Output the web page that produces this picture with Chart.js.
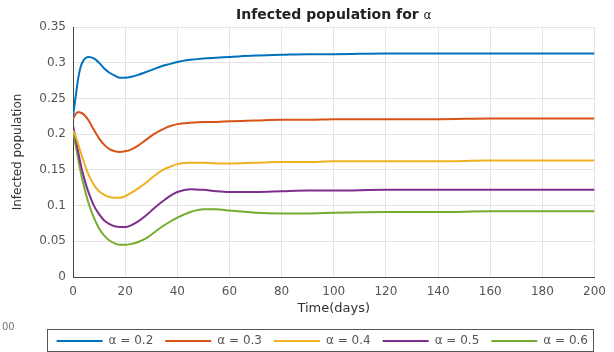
<!DOCTYPE html>
<html>
<head>
<meta charset="utf-8">
<script src="https://cdn.jsdelivr.net/npm/chart.js@4"></script>
<style>
  html, body { margin: 0; padding: 0; background: #fff; }
  #wrap { width: 614px; height: 352px; position: relative; }
</style>
</head>
<body>
<div id="wrap"><canvas id="infectedChart"></canvas></div>
<script>
// time (days)
const days = [0, 1, 2, 3, 4, 5, 6, 8, 10, 12, 14, 16, 18, 20, 22, 25, 28, 31, 34, 37, 40, 45, 50, 55, 60, 70, 80, 90, 100, 120, 140, 160, 180, 200];

const alpha02 = [0.225, 0.252, 0.278, 0.295, 0.303, 0.307, 0.308, 0.306, 0.300, 0.292, 0.286, 0.282, 0.279, 0.279, 0.280, 0.283, 0.287, 0.291, 0.295, 0.298, 0.301, 0.304, 0.306, 0.307, 0.308, 0.310, 0.311, 0.312, 0.312, 0.313, 0.313, 0.313, 0.313, 0.313];
const alpha03 = [0.221, 0.228, 0.231, 0.230, 0.228, 0.224, 0.219, 0.206, 0.194, 0.185, 0.179, 0.176, 0.175, 0.176, 0.178, 0.184, 0.192, 0.200, 0.206, 0.211, 0.214, 0.216, 0.217, 0.217, 0.218, 0.219, 0.220, 0.220, 0.221, 0.221, 0.221, 0.222, 0.222, 0.222];
const alpha04 = [0.205, 0.197, 0.186, 0.174, 0.163, 0.152, 0.143, 0.129, 0.120, 0.115, 0.112, 0.111, 0.111, 0.113, 0.117, 0.124, 0.132, 0.141, 0.149, 0.154, 0.158, 0.160, 0.160, 0.159, 0.159, 0.160, 0.161, 0.161, 0.162, 0.162, 0.162, 0.163, 0.163, 0.163];
const alpha05 = [0.212, 0.194, 0.175, 0.157, 0.142, 0.129, 0.118, 0.100, 0.088, 0.079, 0.074, 0.071, 0.070, 0.070, 0.072, 0.078, 0.086, 0.096, 0.105, 0.113, 0.119, 0.123, 0.122, 0.120, 0.119, 0.119, 0.120, 0.121, 0.121, 0.122, 0.122, 0.122, 0.122, 0.122];
const alpha06 = [0.205, 0.185, 0.165, 0.146, 0.130, 0.116, 0.103, 0.083, 0.068, 0.058, 0.051, 0.047, 0.045, 0.045, 0.046, 0.049, 0.054, 0.062, 0.070, 0.077, 0.083, 0.091, 0.095, 0.095, 0.093, 0.090, 0.089, 0.089, 0.090, 0.091, 0.091, 0.092, 0.092, 0.092];

const seriesNames = ["α = 0.2", "α = 0.3", "α = 0.4", "α = 0.5", "α = 0.6"];
const seriesValues = [alpha02, alpha03, alpha04, alpha05, alpha06];
const seriesColors = ["#0072BD", "#D95319", "#EDB120", "#7E2F8E", "#77AC30"];

const xTicks = [0, 20, 40, 60, 80, 100, 120, 140, 160, 180, 200];
const yTicks = [0, 0.05, 0.1, 0.15, 0.2, 0.25, 0.3, 0.35];

const FONT = "'DejaVu Sans', Arial, sans-serif";

// title centred over the axes + box around the legend, like matlab
const matlabBits = {
    id: "matlabBits",
    afterDraw(chart) {
        const ctx = chart.ctx;
        const area = chart.chartArea;
        ctx.save();

        const main = "Infected population for ";
        ctx.font = "bold 14px " + FONT;
        const w1 = ctx.measureText(main).width;
        ctx.font = "12px " + FONT;
        const w2 = ctx.measureText("α").width;
        let x = (area.left + area.right) / 2 - (w1 + w2) / 2;
        ctx.fillStyle = "#222";
        ctx.textBaseline = "middle";
        ctx.textAlign = "left";
        ctx.font = "bold 14px " + FONT;
        ctx.fillText(main, x, 15);
        ctx.font = "12px " + FONT;
        ctx.fillText("α", x + w1, 16);

        const lg = chart.legend;
        if (lg && lg.legendHitBoxes.length) {
            const boxes = lg.legendHitBoxes;
            const last = boxes[boxes.length - 1];
            const left = boxes[0].left - 10;
            const right = last.left + last.width + 5;
            const top = boxes[0].top + boxes[0].height / 2 - 12;
            ctx.strokeStyle = "#555";
            ctx.lineWidth = 1;
            ctx.strokeRect(Math.round(left) + 0.5, Math.round(top) + 0.5, Math.round(right - left), 22);
        }

        ctx.fillStyle = "#777";
        ctx.font = "10px " + FONT;
        ctx.fillText("00", 2, 327);
        ctx.restore();
    }
};

const datasets = seriesValues.map((vals, i) => ({
    label: seriesNames[i],
    data: days.map((d, j) => ({ x: d, y: vals[j] })),
    borderColor: seriesColors[i],
    backgroundColor: seriesColors[i],
    borderWidth: 2,
    pointRadius: 0,
    cubicInterpolationMode: "monotone",
    fill: false
}));

new Chart(document.getElementById("infectedChart"), {
    type: "line",
    data: { datasets },
    options: {
        responsive: true,
        maintainAspectRatio: false,
        animation: false,
        layout: { padding: { left: 0, right: 14, top: 27, bottom: -5 } },
        scales: {
            x: {
                type: "linear",
                min: 0,
                max: 200,
                afterBuildTicks: s => { s.ticks = xTicks.map(v => ({ value: v })); },
                afterFit: s => { s.height = 46; },
                ticks: { color: "#555", font: { family: FONT, size: 12 }, padding: 8, maxRotation: 0 },
                grid: { color: "#e4e4e4", drawTicks: false },
                border: { color: "#444" },
                title: {
                    display: true,
                    text: "Time(days)",
                    color: "#333",
                    font: { family: FONT, size: 13 },
                    padding: { top: 2, bottom: 7 }
                }
            },
            y: {
                min: 0,
                max: 0.35,
                afterBuildTicks: s => { s.ticks = yTicks.map(v => ({ value: v })); },
                afterFit: s => { s.width = 73; },
                ticks: {
                    color: "#555",
                    font: { family: FONT, size: 12 },
                    padding: 7,
                    callback: v => String(v)
                },
                grid: { color: "#e4e4e4", drawTicks: false },
                border: { color: "#444" },
                title: {
                    display: true,
                    text: "Infected population",
                    color: "#333",
                    font: { family: FONT, size: 12 },
                    padding: { top: 11, bottom: 0 }
                }
            }
        },
        plugins: {
            title: { display: false },
            legend: {
                position: "bottom",
                align: "end",
                labels: {
                    usePointStyle: true,
                    pointStyle: "line",
                    pointStyleWidth: 46,
                    color: "#555",
                    font: { family: FONT, size: 12 },
                    padding: 12
                }
            },
            tooltip: { enabled: false }
        }
    },
    plugins: [matlabBits]
});
</script>
</body>
</html>
